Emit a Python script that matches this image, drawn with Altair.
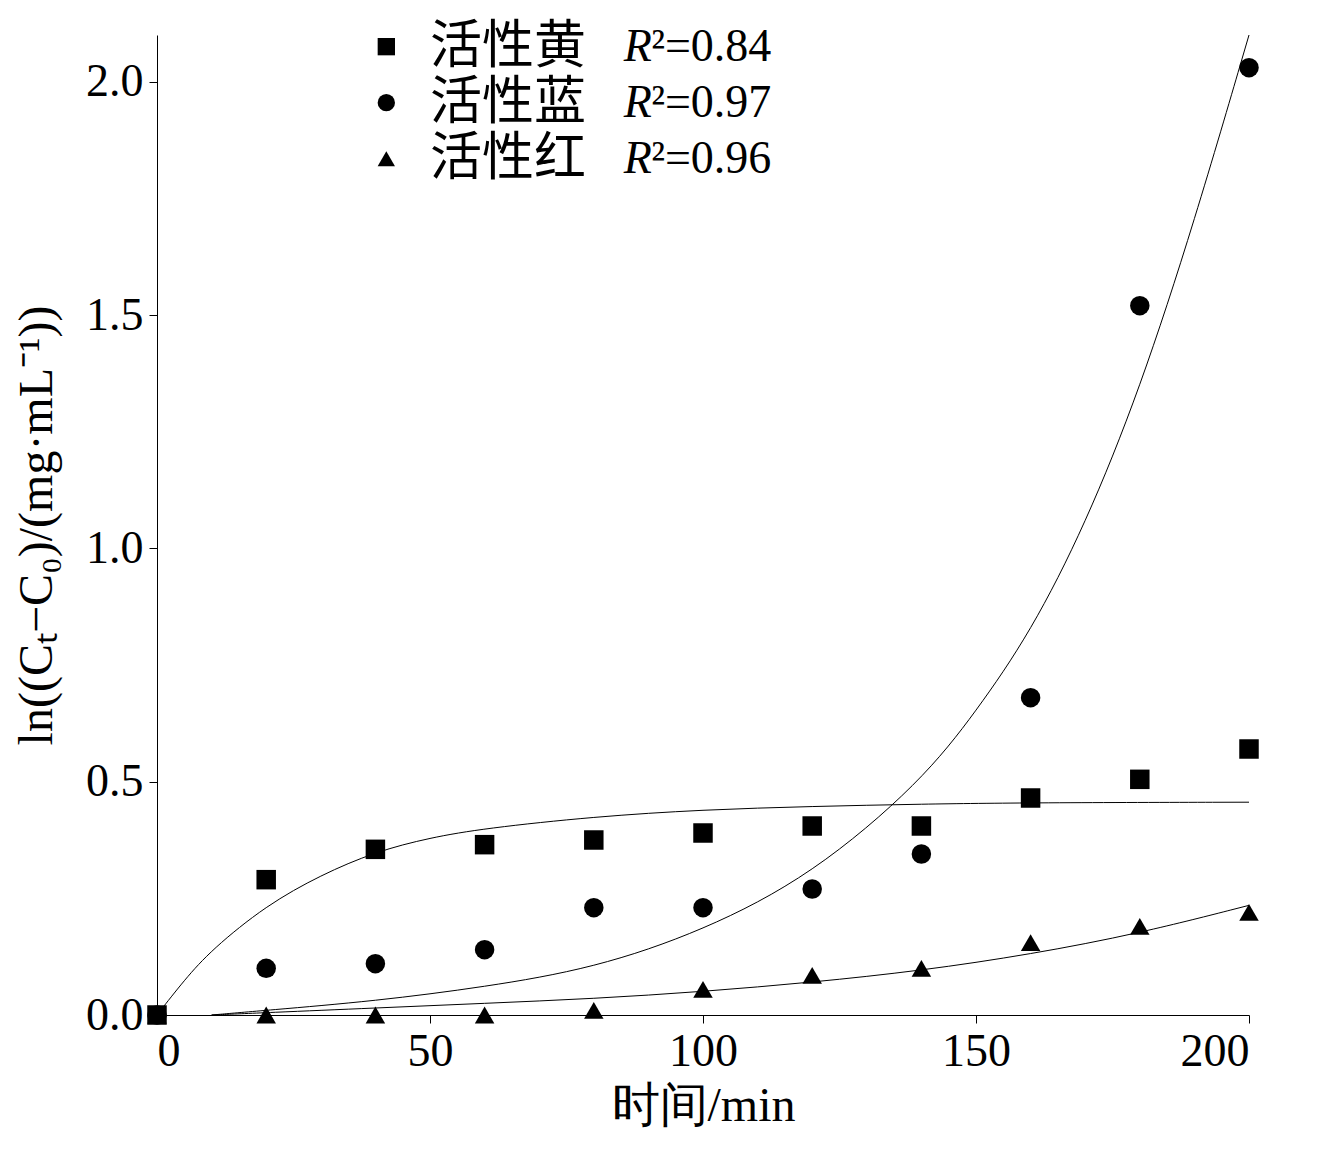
import altair as alt
import pandas as pd

t = [0, 20, 40, 60, 80, 100, 120, 140, 160, 180, 200]
yellow = [0.0, 0.29, 0.355, 0.365, 0.375, 0.39, 0.405, 0.405, 0.465, 0.505, 0.57]
blue = [0.0, 0.10, 0.11, 0.14, 0.23, 0.23, 0.27, 0.345, 0.68, 1.52, 2.03]
red = [0.0, 0.0, 0.0, 0.0, 0.01, 0.055, 0.085, 0.10, 0.155, 0.19, 0.22]

# fitted curves
fit_y_t = [0, 5, 10, 20, 30, 40, 50, 60, 80, 100, 120, 140, 160, 200]
fit_y = [0.0, 0.075, 0.14, 0.235, 0.30, 0.35, 0.38, 0.40, 0.425, 0.44, 0.447, 0.452, 0.455, 0.456]
fit_b_t = [10, 20, 40, 60, 80, 100, 120, 140, 150, 160, 170, 180, 190, 200]
fit_b = [0.0, 0.01, 0.03, 0.06, 0.10, 0.18, 0.30, 0.50, 0.65, 0.82, 1.05, 1.34, 1.70, 2.10]
fit_r_t = [10, 20, 40, 60, 80, 100, 120, 140, 160, 180, 200]
fit_r = [0.0, 0.005, 0.015, 0.025, 0.035, 0.05, 0.07, 0.095, 0.13, 0.175, 0.235]

names = ['活性黄', '活性蓝', '活性红']
r2 = ['0.84', '0.97', '0.96']
shapes = ['square', 'circle', 'triangle-up']

pts = pd.DataFrame({
    't': t * 3,
    'v': yellow + blue + red,
    's': [names[0]] * 11 + [names[1]] * 11 + [names[2]] * 11,
})
fits = pd.DataFrame({
    't': fit_y_t + fit_b_t + fit_r_t,
    'v': fit_y + fit_b + fit_r,
    's': [names[0]] * len(fit_y_t) + [names[1]] * len(fit_b_t) + [names[2]] * len(fit_r_t),
})

font = 'Liberation Serif'
xs = alt.Scale(domain=[0, 200], nice=False)
ys = alt.Scale(domain=[0, 2.1], nice=False)
shape_scale = alt.Scale(domain=names, range=shapes)

x = alt.X('t:Q', scale=xs, title='时间/min',
          axis=alt.Axis(values=[0, 50, 100, 150, 200], grid=False))
y = alt.Y('v:Q', scale=ys, title='ln((Cₜ−C₀)/(mg·mL⁻¹))',
          axis=alt.Axis(values=[0, 0.5, 1.0, 1.5, 2.0], format='.1f', grid=False))

lines = alt.Chart(fits).mark_line(color='black', strokeWidth=1, interpolate='basis').encode(
    x=x, y=y, detail='s:N')

points = alt.Chart(pts).mark_point(filled=True, color='black', size=380, opacity=1).encode(
    x='t:Q', y='v:Q', shape=alt.Shape('s:N', scale=shape_scale, legend=None))

leg = pd.DataFrame({
    's': names,
    'r2': ['²=' + r for r in r2],
    'lx': [42] * 3, 'tx': [50.0] * 3, 'rx': [85.5] * 3, 'qx': [90.5] * 3,
    'ly': [2.075, 1.955, 1.835],
})
leg_mark = alt.Chart(leg).mark_point(filled=True, color='black', size=300, opacity=1).encode(
    x='lx:Q', y='ly:Q', shape=alt.Shape('s:N', scale=shape_scale, legend=None))
leg_name = alt.Chart(leg).mark_text(align='left', baseline='middle', fontSize=52,
                                    font='Noto Sans CJK SC', color='black').encode(
    x='tx:Q', y='ly:Q', text='s:N')
leg_R = alt.Chart(leg).mark_text(align='left', baseline='middle', fontSize=46,
                                 font=font, fontStyle='italic', color='black', text='R').encode(
    x='rx:Q', y='ly:Q')
leg_val = alt.Chart(leg).mark_text(align='left', baseline='middle', fontSize=46,
                                   font=font, color='black').encode(
    x='qx:Q', y='ly:Q', text='r2:N')

chart = (lines + points + leg_mark + leg_name + leg_R + leg_val).properties(
    width=1092, height=980, padding={'top': 12, 'left': 5, 'right': 5, 'bottom': 5}
).configure_view(stroke=None).configure_axis(
    domainColor='black', tickColor='black', labelColor='black', titleColor='black',
    labelFont=font, titleFont=font, labelFontSize=46, titleFontSize=48,
    titleFontWeight='normal', tickSize=8, labelPadding=6
).configure_axisY(titlePadding=24).configure_axisX(titlePadding=8)

chart.save("out.html", embed_options={"renderer": "svg", "actions": False})
